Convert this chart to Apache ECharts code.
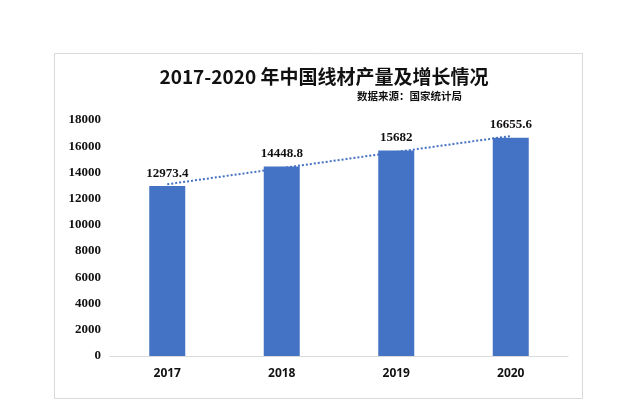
<!DOCTYPE html>
<html><head><meta charset="utf-8">
<script src="https://cdn.jsdelivr.net/npm/echarts@6/dist/echarts.min.js"></script>
<style>html,body{margin:0;padding:0;background:#fff}#c{width:623px;height:401px}</style>
</head><body><div id="c"></div>
<script>
var categories = ['2017', '2018', '2019', '2020'];
var production = [12973.4, 14448.8, 15682, 16655.6];
var trendValues = [13100, 14330, 15560, 16780];
var yTicks = [0, 2000, 4000, 6000, 8000, 10000, 12000, 14000, 16000, 18000];

var chart = echarts.init(document.getElementById('c'), null, {renderer: 'canvas'});
chart.setOption({
  backgroundColor: '#fff',
  animation: false,
  title: [{
    text: '2017-2020 年中国线材产量及增长情况',
    left: 319, top: 62, textAlign: 'center',
    textStyle: {fontFamily: 'Noto Sans CJK SC', fontWeight: 'bold', fontSize: 19, color: '#111'}
  }, {
    text: '数据来源：国家统计局',
    left: 352, top: 86,
    textStyle: {fontFamily: 'Noto Sans CJK SC', fontWeight: 'bold', fontSize: 10.5, color: '#111'}
  }],
  graphic: [{
    type: 'rect', shape: {x: 54.5, y: 53.5, width: 528, height: 345},
    style: {fill: 'none', stroke: '#d9d9d9', lineWidth: 1}, silent: true, z: -1
  }],
  grid: {left: 110, right: 55, top: 120, bottom: 45},
  xAxis: {
    type: 'category', data: categories,
    axisLine: {lineStyle: {color: '#d9d9d9', width: 1}},
    axisTick: {show: false},
    axisLabel: {fontFamily: 'Noto Sans', fontWeight: 'bold', fontSize: 12, color: '#111', margin: 12}
  },
  yAxis: {
    type: 'value', min: yTicks[0], max: yTicks[yTicks.length - 1], interval: 2000,
    axisLine: {show: false}, axisTick: {show: false}, splitLine: {show: false},
    axisLabel: {fontFamily: 'Liberation Serif', fontWeight: 'bold', fontSize: 13, color: '#111', margin: 9,
      formatter: function (v) { return String(v); }}
  },
  series: [{
    type: 'bar', data: production, barWidth: 36,
    itemStyle: {color: '#4472C4'},
    label: {show: true, position: 'top', distance: 6,
      fontFamily: 'Liberation Serif', fontWeight: 'bold', fontSize: 13, color: '#111',
      formatter: function (p) { return String(p.value); }}
  }, {
    type: 'line', data: trendValues, symbol: 'none', z: 5,
    lineStyle: {color: '#4472C4', width: 2, type: [2, 2]}
  }]
});
</script></body></html>
